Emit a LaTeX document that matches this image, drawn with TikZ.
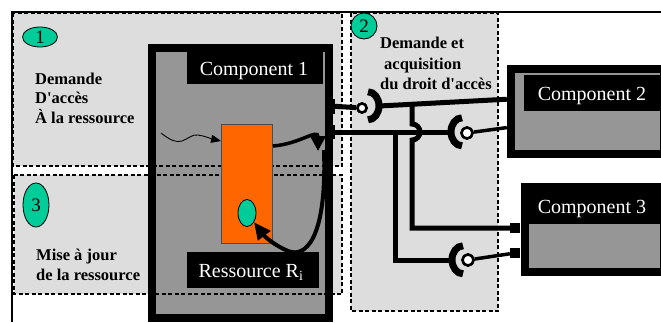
\documentclass[tikz,border=0pt]{standalone}
\usepackage{fontspec}
\setmainfont{Liberation Serif}
\usetikzlibrary{arrows.meta,shapes.geometric}
\definecolor{regiongray}{HTML}{DDDDDD}
\definecolor{compgray}{HTML}{969696}
\definecolor{numgreen}{HTML}{00CC99}
\definecolor{resorange}{HTML}{FF6600}
\begin{document}
\begin{tikzpicture}[x=1pt,y=-1pt,
  regionfill/.style={fill=regiongray},
  regionedge/.style={draw=black,line width=1.3pt,dash pattern=on 4pt off 2.5pt},
  compbox/.style={draw=black,fill=compgray,line width=8pt,inner sep=0},
  labelbox/.style={fill=black,inner sep=0},
  labeltext/.style={text=white,font=\fontsize{20}{24}\selectfont,inner sep=0,anchor=base},
  numbubble/.style={ellipse,draw=black,line width=0.8pt,fill=numgreen,inner sep=0,font=\fontsize{19}{22}\selectfont},
  steptext/.style={font=\fontsize{16.5}{20}\selectfont\bfseries,inner sep=0,anchor=base west},
  port/.style={fill=black,inner sep=0},
  wire/.style={line width=5pt},
  thinwire/.style={line width=3.5pt},
  ball/.style={circle,draw=black,fill=white,line width=2.5pt,minimum size=9pt,inner sep=0},
  socket/.style={inner sep=0,minimum width=22pt,minimum height=28pt},
  cup/.style={line width=7pt},
  flow/.style={line width=3.5pt,-{Triangle[length=15pt,width=15pt]}},
]
\useasboundingbox (0,0) rectangle (661,322);
\clip (0,0) rectangle (661,322);
\fill[white] (0,0) rectangle (661,322);
% region fills
\fill[regionfill] (13,13) rectangle (342,166);
\fill[regionfill] (14,175) rectangle (342,294);
\fill[regionfill] (351,13) rectangle (498,311);
% outer frame
\draw[line width=1.2pt] (12,322) -- (12,12) -- (661,12);
% component 1
\node[compbox,minimum width=177pt,minimum height=270pt] (c1) at (240.5,183) {};
% dashed region outlines
\draw[regionedge] (13,13) rectangle (342,166);
\draw[regionedge] (14,175) rectangle (342,294);
\draw[regionedge] (351,13) rectangle (498,311);
% component 1 contents
\node[labelbox,minimum width=136pt,minimum height=36pt] (c1lab) at (255,66) {};
\node[labeltext] (c1txt) at (254,75) {Component 1};
\node[draw=black!70,line width=0.8pt,fill=resorange,minimum width=51pt,minimum height=119pt,inner sep=0] (res) at (247,183.5) {};
\node[ellipse,draw=black,line width=0.8pt,fill=numgreen,minimum width=18pt,minimum height=27pt,inner sep=0] (ri) at (247,213) {};
\node[labelbox,minimum width=132pt,minimum height=36pt] (reslab) at (253,270) {};
\node[labeltext] (restxt) at (251,277) {Ressource R\textsubscript{i}};
% components 2 and 3
\node[compbox,minimum width=153pt,minimum height=85pt] (c2) at (587.5,111.5) {};
\node[labelbox,minimum width=140pt,minimum height=36pt] (c2lab) at (594,93) {};
\node[labeltext] (c2txt) at (592,100) {Component 2};
\node[compbox,minimum width=139pt,minimum height=85pt] (c3) at (594.5,229.5) {};
\node[labelbox,minimum width=139pt,minimum height=37pt] (c3lab) at (594.5,205.5) {};
\node[labeltext] (c3txt) at (592,213) {Component 3};
% ports
\node[port,minimum width=9pt,minimum height=15pt] (p1a) at (330,106) {};
\node[port,minimum width=9pt,minimum height=14pt] (p1b) at (330,132) {};
\node[port,minimum width=8pt,minimum height=9pt] (p2a) at (511,99) {};
\node[port,minimum width=8pt,minimum height=9pt] (p2b) at (511,127) {};
\node[port,minimum size=10pt] (p3a) at (515,228) {};
\node[port,minimum size=10pt] (p3b) at (515,253) {};
% sockets and balls
\node[socket] (s1) at (368,106) {};
\node[socket] (s2) at (462,132) {};
\node[socket] (s3) at (463,260) {};
\node[ball] (b1) at (362,108) {};
\node[ball,minimum size=11pt] (b2) at (467,133) {};
\node[ball,minimum size=11pt] (b3) at (468,260) {};
\coordinate (j1) at (412,104);
\coordinate (j2) at (395,132);
% wires
\draw[wire] (p1a) -- (b1);
\draw[wire] (s1.east) -- (p2a);
\draw[wire] (j1) -- ++(0,20) arc[start angle=90,end angle=-90,radius=8pt] |- (p3a);
\draw[wire] (p1b) -- (s2.west);
\draw[wire] (j2) |- (s3.west);
\draw[thinwire] (b2) -- (p2b);
\draw[thinwire] (b3) -- (p3b);
\draw[cup] (s1.north) arc[start angle=90,end angle=-90,x radius=11pt,y radius=14pt];
\draw[cup] (s2.north) arc[start angle=90,end angle=270,x radius=11pt,y radius=14pt];
\draw[cup] (s3.north) arc[start angle=90,end angle=270,x radius=11pt,y radius=14pt];
\node[ball] at (b1) {};
\node[ball,minimum size=11pt] at (b2) {};
\node[ball,minimum size=11pt] at (b3) {};
% flows inside component 1
\draw[line width=0.9pt,-{Triangle[length=10pt,width=8pt]}] (161,133) .. controls (170,140) and (176,143) .. (182,141) .. controls (188,139) and (192,134) .. (198,135) .. controls (205,136) and (212,139) .. (res.west |- 0,141);
\draw[flow] (res.east |- 0,146) .. controls (300,144) and (318,128) .. (318,151);
\draw[line width=4pt,-{Triangle[length=17pt,width=15pt]}] (324,150) .. controls (327,240) and (305,258) .. (288,251) .. controls (276,246) and (266,238) .. (ri);
% numbered bubbles
\node[numbubble,minimum width=35pt,minimum height=20pt] (n1) at (40,37) {1};
\node[numbubble,minimum width=26pt,minimum height=26pt] (n2) at (364,26) {2};
\node[numbubble,minimum width=26pt,minimum height=44pt] (n3) at (36,205) {3};
% step texts
\node[steptext] (t1a) at (35,84) {Demande};
\node[steptext] (t1b) at (35,103) {D\textquotesingle acc\`es};
\node[steptext] (t1c) at (35,123) {\`A la ressource};
\node[steptext] (t3a) at (36,260) {Mise \`a jour};
\node[steptext] (t3b) at (36,280) {de la ressource};
\node[steptext] (t2a) at (380,48) {Demande et};
\node[steptext] (t2b) at (384,69) {acquisition};
\node[steptext] (t2c) at (380,89) {du droit d\textquotesingle acc\`es};
\end{tikzpicture}
\end{document}
